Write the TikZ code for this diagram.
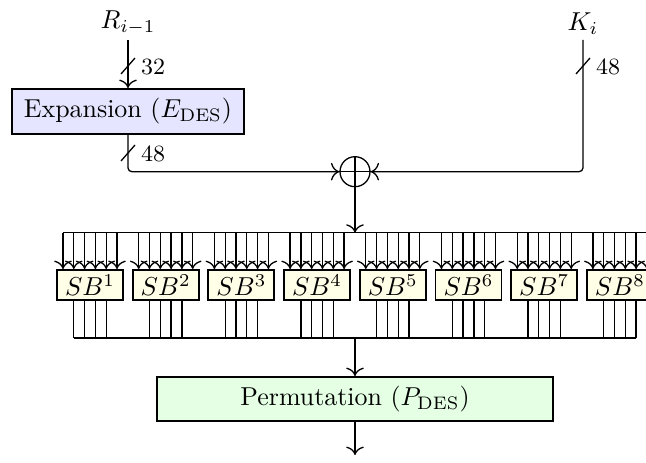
\documentclass[tikz,border=0pt]{standalone}
\usetikzlibrary{calc,arrows.meta}
\begin{document}
\begin{tikzpicture}[x=0.386pt,y=-0.386pt,
  line width=0.5pt,
  blk/.style={draw,line width=0.75pt,inner sep=0pt,minimum height={44*0.386pt}},
  sbox/.style={draw,line width=0.75pt,fill=yellow!10,inner sep=0pt,minimum width={66*0.386pt},minimum height={30*0.386pt}},
  lbl/.style={font=\small,anchor=west,inner sep=1pt},
  arr/.style={-{To[scale=1.2]}},
]
\useasboundingbox (0,0) rectangle (646,463);
% inputs
\node[anchor=south,inner sep=2pt] (R) at (128,40) {$R_{i-1}$};
\node[anchor=south,inner sep=2pt] (K) at (583,40) {$K_i$};
% expansion
\node[blk,fill=blue!10,minimum width={232*0.386pt},minimum height={45*0.386pt}] (exp) at (128,111.5) {Expansion ($E_{\mathrm{DES}}$)};
\draw[arr] (R.south) -- (exp.north);
\draw (121,74) -- (135,58);
\node[lbl] (l32) at (138,67) {32};
% xor
\node[draw,circle,inner sep=0pt,minimum size={30*0.386pt}] (xor) at (355,171.7) {};
\draw (xor.north) -- (xor.south) (xor.west) -- (xor.east);
\draw[arr,rounded corners=1.5pt] (exp.south) |- (xor.west);
\draw (121,161) -- (135,145);
\node[lbl] (l48a) at (138,154) {48};
\draw[arr,rounded corners=1.5pt] (K.south) |- (xor.east);
\draw (576,74) -- (590,58);
\node[lbl] (l48b) at (593,67) {48};
% top bus
\coordinate (tb) at (63,232.7);
\coordinate (te) at (660,232.7);
\draw (tb) -- (te);
\draw[arr] (xor.south) -- (xor.south |- tb);
% S-boxes
\foreach \k in {1,...,8}{
  \node[sbox] (sb\k) at ({90+75.7*(\k-1)},285) {$SB^{\k}$};
  \foreach \j in {0,...,5}{
    \coordinate (in\k\j) at ({63+75.7*(\k-1)+10.8*\j},232.7);
    \draw[arr] (in\k\j) -- (in\k\j |- sb\k.north);
  }
  \foreach \j in {1,...,4}{
    \coordinate (out\k\j) at ({63+75.7*(\k-1)+10.8*\j},338);
    \draw (out\k\j |- sb\k.south) -- (out\k\j);
  }
}
% bottom bus
\draw (out11) -- (out84);
\coordinate (bm) at (355,338);
% permutation
\node[blk,fill=green!10,minimum width={396*0.386pt}] (perm) at (355,399) {Permutation ($P_{\mathrm{DES}}$)};
\draw[arr] (bm) -- (perm.north);
\coordinate (outp) at (355,455);
\draw[arr] (perm.south) -- (outp);
\end{tikzpicture}
\end{document}
